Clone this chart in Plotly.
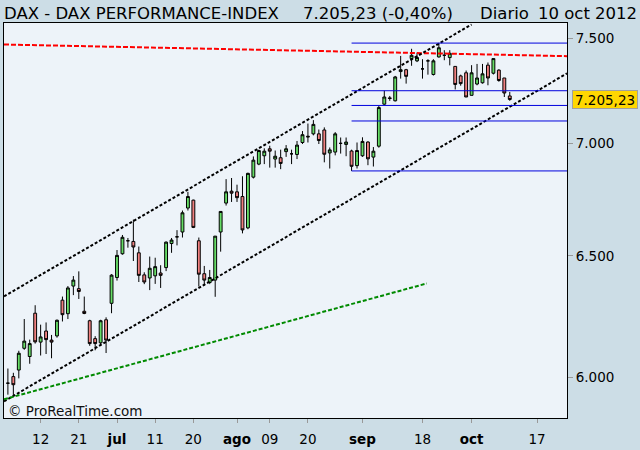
import math
import plotly.graph_objects as go

# ---------------- data ----------------
dates = [
    "04/06", "05/06", "06/06", "07/06", "08/06", "11/06", "12/06", "13/06", "14/06", "15/06",
    "18/06", "19/06", "20/06", "21/06", "22/06", "25/06", "26/06", "27/06", "28/06", "29/06",
    "02/07", "03/07", "04/07", "05/07", "06/07", "09/07", "10/07", "11/07", "12/07", "13/07",
    "16/07", "17/07", "18/07", "19/07", "20/07", "23/07", "24/07", "25/07", "26/07", "27/07",
    "30/07", "31/07", "01/08", "02/08", "03/08", "06/08", "07/08", "08/08", "09/08", "10/08",
    "13/08", "14/08", "15/08", "16/08", "17/08", "20/08", "21/08", "22/08", "23/08", "24/08",
    "27/08", "28/08", "29/08", "30/08", "31/08", "03/09", "04/09", "05/09", "06/09", "07/09",
    "10/09", "11/09", "12/09", "13/09", "14/09", "17/09", "18/09", "19/09", "20/09", "21/09",
    "24/09", "25/09", "26/09", "27/09", "28/09", "01/10", "02/10", "03/10", "04/10", "05/10",
    "08/10", "09/10", "10/10",
]
opens = [
    5977, 6003, 6029, 6116, 6083, 6259, 6141, 6186, 6149, 6166,
    6313, 6257, 6372, 6361, 6267, 6228, 6155, 6138, 6232, 6300,
    6408, 6509, 6565, 6562, 6513, 6419, 6406, 6415, 6427, 6450,
    6553, 6582, 6603, 6708, 6743, 6565, 6424, 6387, 6397, 6603,
    6730, 6783, 6780, 6759, 6621, 6846, 6905, 6943, 6975, 6928,
    6934, 6962, 6952, 6949, 7004, 7033, 7044, 7044, 7062, 6956,
    6960, 7000, 6995, 6965, 6898, 6943, 7006, 6937, 6987, 7183,
    7213, 7199, 7339, 7348, 7402, 7391, 7352, 7391, 7325, 7410,
    7418, 7407, 7364, 7318, 7333, 7225, 7279, 7285, 7370, 7331,
    7346, 7308, 7222,
]
highs = [
    6035, 6018, 6106, 6235, 6151, 6292, 6212, 6221, 6170, 6233,
    6328, 6372, 6414, 6434, 6328, 6232, 6165, 6232, 6242, 6422,
    6525, 6590, 6577, 6657, 6540, 6430, 6497, 6492, 6460, 6562,
    6577, 6611, 6697, 6780, 6745, 6579, 6457, 6440, 6585, 6693,
    6837, 6842, 6812, 6850, 6866, 6940, 6971, 6977, 6989, 6967,
    6971, 6992, 6971, 7011, 7057, 7092, 7108, 7064, 7074, 6981,
    7052, 7027, 7027, 6971, 7004, 7028, 7010, 6983, 7176, 7247,
    7222, 7318, 7415, 7352, 7450, 7431, 7399, 7399, 7399, 7479,
    7443, 7443, 7364, 7324, 7344, 7370, 7376, 7376, 7383, 7402,
    7350, 7308, 7241,
]
lows = [
    5932, 5926, 5996, 6110, 6054, 6135, 6087, 6093, 6076, 6159,
    6225, 6235, 6334, 6318, 6255, 6126, 6108, 6125, 6097, 6259,
    6395, 6505, 6535, 6478, 6389, 6380, 6355, 6381, 6364, 6435,
    6513, 6545, 6579, 6697, 6620, 6370, 6374, 6380, 6327, 6518,
    6719, 6735, 6735, 6597, 6615, 6840, 6900, 6905, 6889, 6889,
    6882, 6938, 6905, 6928, 6997, 7004, 7037, 6997, 6913, 6885,
    6945, 6953, 6941, 6874, 6885, 6938, 6900, 6894, 6980, 7180,
    7199, 7196, 7305, 7281, 7367, 7385, 7305, 7324, 7320, 7407,
    7394, 7369, 7253, 7271, 7217, 7225, 7273, 7281, 7273, 7325,
    7290, 7217, 7199,
]
closes = [
    5977, 5971, 6096, 6145, 6135, 6142, 6162, 6151, 6141, 6230,
    6253, 6364, 6397, 6349, 6258, 6135, 6135, 6228, 6149, 6418,
    6502, 6580, 6565, 6538, 6417, 6389, 6447, 6454, 6417, 6559,
    6568, 6582, 6687, 6759, 6623, 6422, 6397, 6408, 6585, 6693,
    6780, 6774, 6754, 6612, 6863, 6923, 6967, 6964, 6964, 6941,
    6908, 6975, 6952, 6992, 7040, 7030, 7088, 7013, 6950, 6970,
    7044, 7000, 7006, 6895, 6967, 7009, 6929, 6964, 7167, 7217,
    7210, 7313, 7348, 7316, 7418, 7407, 7352, 7391, 7391, 7455,
    7418, 7428, 7277, 7281, 7217, 7333, 7308, 7328, 7308, 7402,
    7296, 7236, 7205.23,
]

# x-axis ticks (trading-day positions) and labels
tick_pos = [6, 13, 20, 27, 34, 42, 48, 55, 65, 76, 85, 97]
tick_text = ["12", "21", "<b>jul</b>", "11", "20", "<b>ago</b>", "09", "20",
             "<b>sep</b>", "18", "<b>oct</b>", "17"]
y_ticks = [6000, 6500, 7000, 7500]
y_tick_text = ["6.000", "6.500", "7.000", "7.500"]

# drawn lines (end points: trading-day position, price)
upper_x, upper_y = [-0.714, 85.0], [6329, 7570]
lower_x, lower_y = [-0.714, 102.49], [5906, 7330]
green_x, green_y = [-0.714, 76.8], [5914, 6383]
red_x, red_y = [-0.714, 102.49], [7471, 7414]
fib_start, fib_end = 63, 102.49
fib_levels = [7478, 7247, 7177, 7104, 6874]

last_price = 7205.23
x_range = [-0.714, 102.49]
y_range = [5841.5, 7577.6]

# ---------------- figure ----------------
FONT = "DejaVu Sans"
x = list(range(len(dates)))

fig = go.Figure()
fig.add_trace(go.Candlestick(
    x=x, open=opens, high=highs, low=lows, close=closes, text=dates,
    increasing=dict(line=dict(color="black", width=1), fillcolor="#66dd66"),
    decreasing=dict(line=dict(color="black", width=1), fillcolor="#f08080"),
    whiskerwidth=0, hoverinfo="text",
))

def seg(xs, ys, color, width, dash):
    fig.add_trace(go.Scatter(x=xs, y=ys, mode="lines", hoverinfo="skip",
                             line=dict(color=color, width=width, dash=dash)))

seg(red_x, red_y, "#ff0000", 2, "5px,2px")
seg(upper_x, upper_y, "black", 2, "3px,2px")
seg(lower_x, lower_y, "black", 2, "3px,2px")
seg(green_x, green_y, "#008a00", 2, "4px,2px")
for lv in fib_levels:
    seg([fib_start, fib_end], [lv, lv], "#0000dd", 1, "solid")

L, R, T, B = 3, 73, 23, 23
W, H = 640 - L - R, 450 - T - B

def px(xp):
    return (xp - L) / W

def py(yp):
    return (450 - B - yp) / H

ann = []
title_font = dict(family=FONT, size=16.5, color="black")
ann.append(dict(text="DAX - DAX PERFORMANCE-INDEX", x=px(1), y=py(13), xanchor="left",
                yanchor="middle", font=title_font))
ann.append(dict(text="7.205,23 (-0,40%)", x=px(301), y=py(13), xanchor="left",
                yanchor="middle", font=title_font))
ann.append(dict(text="Diario", x=px(478), y=py(13), xanchor="left",
                yanchor="middle", font=title_font))
ann.append(dict(text="10 oct 2012", x=px(639), y=py(13), xanchor="right",
                yanchor="middle", font=title_font))
ann.append(dict(text="© ProRealTime.com", x=px(5), y=py(420), xanchor="left",
                yanchor="middle", font=dict(family=FONT, size=13.5, color="#111")))
ann.append(dict(text="7.205,23", x=px(572), y=math.log10(last_price), yref="y",
                xanchor="left", yanchor="middle", width=62, height=15,
                bgcolor="#ffd700", bordercolor="#a0a0a0", borderwidth=1, borderpad=1,
                font=dict(family=FONT, size=13.5, color="black")))
for a in ann:
    a.setdefault("xref", "paper")
    a.setdefault("yref", "paper")
    a["showarrow"] = False

fig.update_layout(
    width=640, height=450,
    margin=dict(l=L, r=R, t=T, b=B, pad=0),
    paper_bgcolor="#ccdde6", plot_bgcolor="#edf3f9",
    showlegend=False, boxgap=0.25,
    annotations=ann,
    font=dict(family=FONT, size=13.5, color="black"),
    xaxis=dict(range=x_range, tickvals=tick_pos, ticktext=tick_text,
               ticks="outside", ticklen=4, tickcolor="#999", tickwidth=1,
               ticklabelstandoff=5,
               showline=True, mirror=True, linecolor="black", linewidth=1,
               showgrid=False, zeroline=False, rangeslider=dict(visible=False),
               tickfont=dict(family=FONT, size=13.5, color="black")),
    yaxis=dict(type="log", range=[math.log10(y_range[0]), math.log10(y_range[1])],
               side="right", tickvals=y_ticks, ticktext=y_tick_text,
               ticks="outside", ticklen=5, tickcolor="#999", tickwidth=1,
               ticklabelstandoff=0,
               showline=True, mirror=True, linecolor="black", linewidth=1,
               showgrid=False, zeroline=False,
               tickfont=dict(family=FONT, size=13.5, color="black")),
)

fig.write_html("out.html")
